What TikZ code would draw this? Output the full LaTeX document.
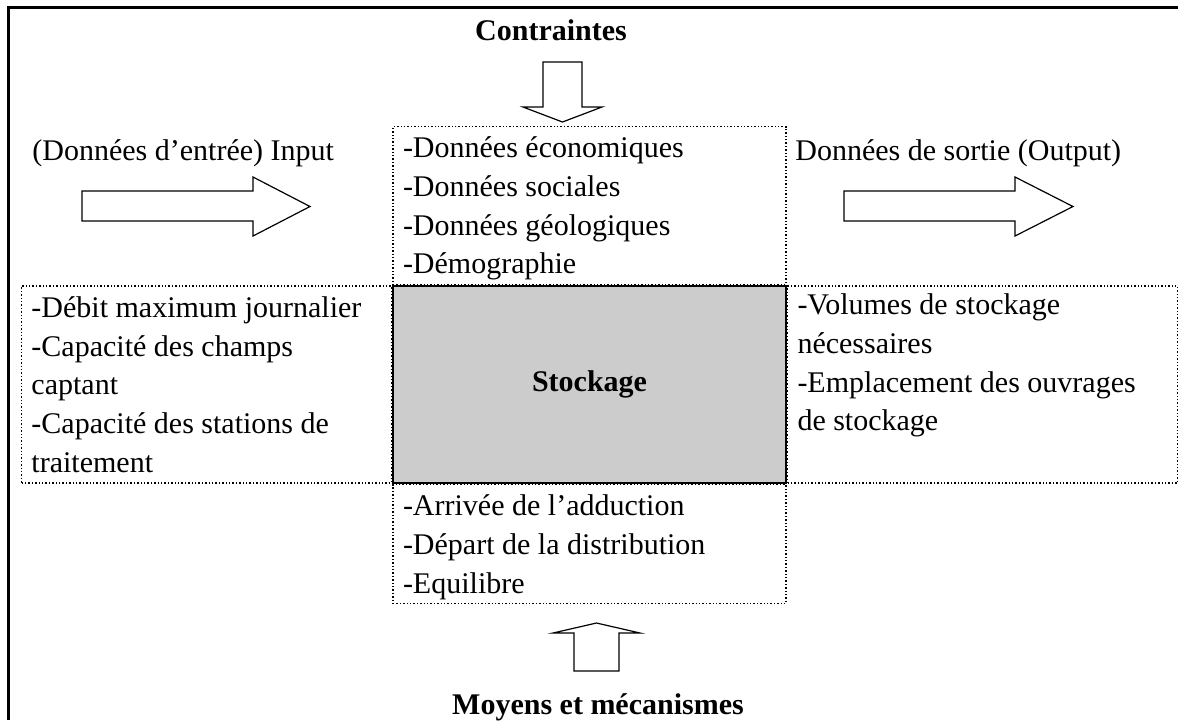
\documentclass[tikz,border=0pt]{standalone}
\usepackage{fontspec}
\setmainfont{Liberation Serif}
\usetikzlibrary{positioning}
\definecolor{stockgray}{RGB}{204,204,204}
\newcommand{\diagfont}{\fontsize{15}{19.35}\selectfont}

\begin{document}
\begin{tikzpicture}[x=0.5pt, y=-0.5pt,
		listbox/.style={draw, densely dotted, line width=0.7pt, align=flush left, inner xsep=5pt, inner ysep=0pt, font=\diagfont},
		stockbox/.style={draw, line width=0.8pt, fill=stockgray, minimum width=196.5pt, minimum height=98.5pt, inner sep=0pt, font=\diagfont\bfseries},
		plaintext/.style={inner sep=0pt, font=\diagfont},
		blockarrow/.style={draw, line width=0.6pt, fill=white}
		]
		\useasboundingbox (0,0) rectangle (1178,720);
		\draw[line width=1.3pt] (8.5,720) -- (8.5,7.5) -- (1178,7.5);

		\node[stockbox](stock) at (589.5,384.5){Stockage};
		\node[listbox, text width=186.5pt, minimum height=79pt, above=0pt of stock](constr){\strut-Données économiques\\-Données sociales\\-Données géologiques\\-Démographie};
		\node[listbox, text width=186.5pt, minimum height=59.5pt, below=0pt of stock](means){\strut-Arrivée de l’adduction\\-Départ de la distribution\\-Equilibre};
		\node[listbox, text width=175pt, minimum height=98.5pt, left=0pt of stock](inputs){-Débit maximum journalier\\-Capacité des champs\\captant\\-Capacité des stations de\\traitement};
		\node[listbox, text width=185pt, minimum height=98.5pt, right=0pt of stock](outputs){\strut-Volumes de stockage\\nécessaires\\-Emplacement des ouvrages\\de stockage\\ \strut};

		\node[plaintext, anchor=base](constrlabel) at (551,40){\bfseries Contraintes};
		\node[plaintext, anchor=base](meanslabel) at (598,714){\bfseries Moyens et mécanismes};
		\node[plaintext, anchor=base west](inlabel) at (32,160){(Données d’entrée) Input};
		\node[plaintext, anchor=base west](outlabel) at (795,160){Données de sortie (Output)};

		\draw[blockarrow] (82,191) -- (253,191) -- (253,177) -- (310,206.5) -- (253,236) -- (253,221) -- (82,221) -- cycle;
		\draw[blockarrow] (844,191) -- (1015,191) -- (1015,177) -- (1073,206.5) -- (1015,236) -- (1015,221) -- (844,221) -- cycle;
		\draw[blockarrow] (543,62) -- (582,62) -- (582,107) -- (602,107) -- (562.5,122) -- (523,107) -- (543,107) -- cycle;
		\draw[blockarrow] (574,671) -- (619,671) -- (619,633) -- (640,633) -- (596.5,623) -- (553,633) -- (574,633) -- cycle;
	\end{tikzpicture}
\end{document}
